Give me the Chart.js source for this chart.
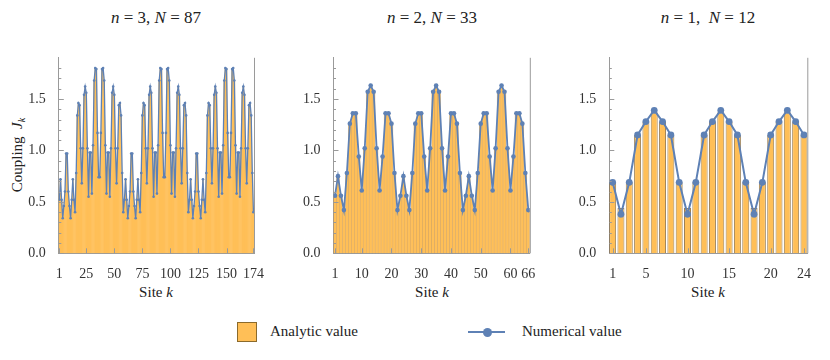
<!DOCTYPE html>
<html>
<head>
<meta charset="utf-8">
<script src="https://cdn.jsdelivr.net/npm/chart.js@4/dist/chart.umd.min.js"></script>
<style>
  body { margin: 0; width: 830px; height: 360px; background: #fff; position: relative; overflow: hidden;
         font-family: "Liberation Serif", "Times New Roman", serif; color: #222; }
  .box { position: absolute; top: 40px; height: 240px; }
  .title { position: absolute; top: 8px; font-size: 17px; transform: translateX(-50%); white-space: pre; }
  .xlab { position: absolute; top: 284px; font-size: 15px; transform: translateX(-50%); white-space: pre; }
  .ylab { position: absolute; left: 18px; top: 155px; font-size: 15px; white-space: pre;
          transform: translate(-50%, -50%) rotate(-90deg); }
  .leg { position: absolute; font-size: 15px; top: 323px; white-space: pre; }
  sub { font-size: 10px; vertical-align: -3px; }
</style>
</head>
<body>
<div class="title" style="left:156px"><i>n</i> = 3, <i>N</i> = 87</div>
<div class="title" style="left:432px"><i>n</i> = 2, <i>N</i> = 33</div>
<div class="title" style="left:708px"><i>n</i> = 1,  <i>N</i> = 12</div>
<div class="ylab">Coupling  <i>J</i><sub><i>k</i></sub></div>

<div class="box" style="left:0;width:275px"><canvas id="c1" width="275" height="240"></canvas></div>
<div class="box" style="left:275px;width:275px"><canvas id="c2" width="275" height="240"></canvas></div>
<div class="box" style="left:550px;width:280px"><canvas id="c3" width="280" height="240"></canvas></div>

<div class="xlab" style="left:156px">Site <i>k</i></div>
<div class="xlab" style="left:432px">Site <i>k</i></div>
<div class="xlab" style="left:708px">Site <i>k</i></div>

<div style="position:absolute;left:237px;top:322px;width:18px;height:18px;background:#ffbf57;border:1px solid #8b6a2b"></div>
<div class="leg" style="left:270px">Analytic value</div>
<div style="position:absolute;left:468px;top:331px;width:37px;height:2px;background:#5e81b5"></div>
<div style="position:absolute;left:483px;top:328px;width:9px;height:9px;border-radius:50%;background:#5e81b5"></div>
<div class="leg" style="left:522px">Numerical value</div>

<script>
// n = 3, N = 87  (sites 1..174)
const analytic1 = [
  0.52, 0.72, 0.52, 0.34, 0.46, 0.60, 0.97, 0.97, 0.60, 0.46, 0.34, 0.52, 0.72, 0.52, 0.40, 0.78, 1.34, 1.46, 1.44, 1.02,
  0.68, 1.02, 1.54, 1.62, 1.56, 1.02, 0.55, 0.98, 0.98, 0.58, 1.05, 1.68, 1.80, 1.79, 1.17, 0.74, 0.74, 1.17, 1.79, 1.80,
  1.68, 1.05, 0.58, 0.98, 0.98, 0.55, 1.02, 1.56, 1.62, 1.54, 1.02, 0.68, 1.02, 1.44, 1.46, 1.34, 0.78, 0.40,
  0.52, 0.72, 0.52, 0.34, 0.46, 0.60, 0.97, 0.97, 0.60, 0.46, 0.34, 0.52, 0.72, 0.52, 0.40, 0.78, 1.34, 1.46, 1.44, 1.02,
  0.68, 1.02, 1.54, 1.62, 1.56, 1.02, 0.55, 0.98, 0.98, 0.58, 1.05, 1.68, 1.80, 1.79, 1.17, 0.74, 0.74, 1.17, 1.79, 1.80,
  1.68, 1.05, 0.58, 0.98, 0.98, 0.55, 1.02, 1.56, 1.62, 1.54, 1.02, 0.68, 1.02, 1.44, 1.46, 1.34, 0.78, 0.40,
  0.52, 0.72, 0.52, 0.34, 0.46, 0.60, 0.97, 0.97, 0.60, 0.46, 0.34, 0.52, 0.72, 0.52, 0.40, 0.78, 1.34, 1.46, 1.44, 1.02,
  0.68, 1.02, 1.54, 1.62, 1.56, 1.02, 0.55, 0.98, 0.98, 0.58, 1.05, 1.68, 1.80, 1.79, 1.17, 0.74, 0.74, 1.17, 1.79, 1.80,
  1.68, 1.05, 0.58, 0.98, 0.98, 0.55, 1.02, 1.56, 1.62, 1.54, 1.02, 0.68, 1.02, 1.44, 1.46, 1.34, 0.78, 0.40
];
const numerical1 = analytic1;

// n = 2, N = 33  (sites 1..66)
const analytic2 = [
  0.56, 0.75, 0.56, 0.42, 0.78, 1.26, 1.36, 1.36, 0.94, 0.61, 1.02, 1.57, 1.63, 1.57, 1.02, 0.61, 0.94, 1.36, 1.36, 1.26, 0.78, 0.42,
  0.56, 0.75, 0.56, 0.42, 0.78, 1.26, 1.36, 1.36, 0.94, 0.61, 1.02, 1.57, 1.63, 1.57, 1.02, 0.61, 0.94, 1.36, 1.36, 1.26, 0.78, 0.42,
  0.56, 0.75, 0.56, 0.42, 0.78, 1.26, 1.36, 1.36, 0.94, 0.61, 1.02, 1.57, 1.63, 1.57, 1.02, 0.61, 0.94, 1.36, 1.36, 1.26, 0.78, 0.42
];
const numerical2 = analytic2;

// n = 1, N = 12  (sites 1..24)
const analytic3 = [
  0.69, 0.44, 0.69, 1.15, 1.28, 1.37, 1.28, 1.15,
  0.69, 0.44, 0.69, 1.15, 1.28, 1.37, 1.28, 1.15,
  0.69, 0.44, 0.69, 1.15, 1.28, 1.37, 1.28, 1.15
];
const numerical3 = [
  0.69, 0.38, 0.69, 1.15, 1.28, 1.39, 1.28, 1.15,
  0.69, 0.38, 0.69, 1.15, 1.28, 1.39, 1.28, 1.15,
  0.69, 0.38, 0.69, 1.15, 1.28, 1.39, 1.28, 1.15
];

const xTicks1 = [1, 25, 50, 75, 100, 125, 150, 174];
const xTicks2 = [1, 10, 20, 30, 40, 50, 60, 66];
const xTicks3 = [1, 5, 10, 15, 20, 24];
const yTicks = [0, 0.5, 1.0, 1.5];

const orange = '#ffbf57';
const blue = '#5e81b5';
const axisGrey = '#9a9a9a';
const serif = 'Liberation Serif';

Chart.defaults.font.family = serif;
Chart.defaults.font.size = 14;
Chart.defaults.color = '#333';

// inward frame ticks like Mathematica, plus the right frame line
const frameTicks = {
  id: 'frameTicks',
  afterDraw(chart) {
    const { ctx, chartArea: a, scales } = chart;
    const o = chart.options.plugins.frameTicks;
    ctx.save();
    ctx.strokeStyle = axisGrey;
    ctx.lineWidth = 1;
    ctx.beginPath();
    ctx.moveTo(a.right + 0.5, a.top);
    ctx.lineTo(a.right + 0.5, a.bottom);
    for (let v = 0; v <= 1.85; v += 0.1) {
      const y = Math.round(scales.y.getPixelForValue(v)) + 0.5;
      const major = Math.abs(v * 2 - Math.round(v * 2)) < 1e-6;
      ctx.moveTo(a.left, y);
      ctx.lineTo(a.left + (major ? 5 : 2.5), y);
    }
    o.xTicks.forEach(v => {
      const x = Math.round(scales.x.getPixelForValue(v)) + 0.5;
      ctx.moveTo(x, a.bottom);
      ctx.lineTo(x, a.bottom - 5);
    });
    ctx.stroke();
    ctx.restore();
  }
};

function makePanel(id, analytic, numerical, xTicks, look) {
  const sites = analytic.map((_, i) => i + 1);
  return new Chart(document.getElementById(id), {
    type: 'bar',
    data: {
      datasets: [{
        type: 'line',
        label: 'Numerical value',
        data: sites.map((k, i) => ({ x: k, y: numerical[i] })),
        borderColor: blue,
        backgroundColor: blue,
        borderWidth: look.lineWidth,
        pointRadius: look.pointRadius,
        pointBorderWidth: 0,
        tension: 0,
        order: 1
      }, {
        label: 'Analytic value',
        data: sites.map((k, i) => ({ x: k, y: analytic[i] })),
        backgroundColor: orange,
        borderColor: look.barEdge,
        borderWidth: look.barEdgeWidth,
        borderSkipped: 'start',
        barPercentage: look.barPct,
        categoryPercentage: 1,
        order: 2
      }]
    },
    options: {
      responsive: false,
      animation: false,
      devicePixelRatio: 1,
      layout: { padding: { left: 0, right: look.padRight, top: 17.8, bottom: 0 } },
      plugins: {
        legend: { display: false },
        tooltip: { enabled: false },
        frameTicks: { xTicks }
      },
      scales: {
        x: {
          type: 'linear',
          offset: false,
          min: look.xMin,
          max: look.xMax,
          afterBuildTicks: axis => { axis.ticks = xTicks.map(v => ({ value: v })); },
          afterFit: s => { s.height = 26.7; },
          ticks: {
            color: '#333',
            font: { family: serif, size: 14 },
            padding: 5,
            maxRotation: 0,
            autoSkip: false,
            callback: v => String(v)
          },
          grid: { display: false },
          border: { color: axisGrey }
        },
        y: {
          min: 0,
          max: 1.9,
          afterBuildTicks: axis => { axis.ticks = yTicks.map(v => ({ value: v })); },
          afterFit: s => { s.width = look.yWidth; },
          ticks: {
            color: '#333',
            font: { family: serif, size: 14 },
            padding: 5,
            callback: v => v.toFixed(1)
          },
          grid: { display: false },
          border: { color: axisGrey }
        }
      }
    },
    plugins: [frameTicks]
  });
}

function drawAll() {
  makePanel('c1', analytic1, numerical1, xTicks1, {
    xMin: 0.5, xMax: 174.5, yWidth: 58.8, padRight: 21,
    lineWidth: 1.3, pointRadius: 1.3,
    barPct: 1.4, barEdge: orange, barEdgeWidth: 0
  });
  makePanel('c2', analytic2, numerical2, xTicks2, {
    xMin: 0.5, xMax: 66.5, yWidth: 58.5, padRight: 20.2,
    lineWidth: 1.8, pointRadius: 2.3,
    barPct: 1, barEdge: 'rgba(190,125,35,0.55)', barEdgeWidth: 0.6
  });
  makePanel('c3', analytic3, numerical3, xTicks3, {
    xMin: 0.6, xMax: 24.4, yWidth: 59.3, padRight: 22.7,
    lineWidth: 2, pointRadius: 3.4,
    barPct: 0.84, barEdge: 'rgba(125,85,25,0.75)', barEdgeWidth: 1
  });
}

if (document.fonts && document.fonts.load) {
  document.fonts.load("14px 'Liberation Serif'").then(drawAll, drawAll);
} else {
  drawAll();
}
</script>
</body>
</html>
